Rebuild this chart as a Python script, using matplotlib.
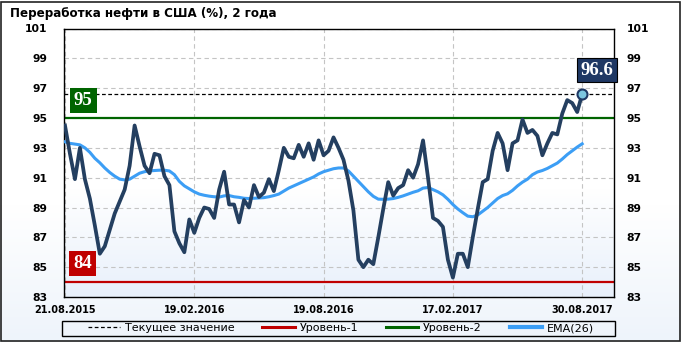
import numpy as np
import matplotlib
matplotlib.use('Agg')
from matplotlib import pyplot as plt
from matplotlib.lines import Line2D
from matplotlib.patches import Rectangle
from matplotlib.colors import LinearSegmentedColormap

title = 'Переработка нефти в США (%), 2 года'
date_labels = ['21.08.2015', '19.02.2016', '19.08.2016', '17.02.2017', '30.08.2017']
date_pos = [0, 26, 52, 78, 104]
y_ticks = [83, 85, 87, 89, 91, 93, 95, 97, 99, 101]

# weekly refinery utilization, %
refining = [94.5, 92.6, 90.9, 93.0, 90.9, 89.6, 87.8, 85.9, 86.4, 87.5,
            88.6, 89.4, 90.2, 91.8, 94.5, 93.1, 91.8, 91.3, 92.6, 92.5,
            91.1, 90.5, 87.4, 86.6, 86.0, 88.2, 87.3, 88.3, 89.0, 88.9,
            88.3, 90.2, 91.4, 89.2, 89.2, 88.0, 89.5, 89.0, 90.5, 89.7,
            90.0, 90.9, 90.1, 91.5, 93.0, 92.4, 92.3, 93.2, 92.4, 93.3,
            92.2, 93.5, 92.5, 92.8, 93.7, 93.0, 92.2, 90.8, 88.8, 85.5,
            85.0, 85.5, 85.2, 87.0, 88.9, 90.7, 89.8, 90.3, 90.5, 91.5,
            91.0, 91.9, 93.5, 91.0, 88.3, 88.1, 87.7, 85.5, 84.3, 85.9,
            85.9, 85.0, 87.0, 88.9, 90.7, 90.9, 92.8, 94.0, 93.3, 91.5,
            93.3, 93.5, 94.9, 94.0, 94.2, 93.8, 92.5, 93.3, 94.0, 93.9,
            95.3, 96.2, 96.0, 95.4, 96.6]

ema26 = [93.40, 93.30, 93.25, 93.20, 93.00, 92.70, 92.30, 92.00, 91.65, 91.35,
         91.10, 90.90, 90.85, 90.90, 91.10, 91.30, 91.40, 91.45, 91.48, 91.50,
         91.50, 91.45, 91.20, 90.75, 90.45, 90.25, 90.05, 89.90, 89.82, 89.76,
         89.72, 89.70, 89.78, 89.80, 89.72, 89.68, 89.62, 89.60, 89.62, 89.64,
         89.66, 89.72, 89.80, 89.90, 90.10, 90.30, 90.45, 90.60, 90.75, 90.90,
         91.05, 91.25, 91.40, 91.50, 91.60, 91.65, 91.65, 91.45, 91.10, 90.75,
         90.40, 90.05, 89.75, 89.56, 89.55, 89.56, 89.60, 89.68, 89.78, 89.90,
         90.02, 90.12, 90.30, 90.34, 90.20, 90.05, 89.85, 89.55, 89.20, 88.90,
         88.65, 88.42, 88.38, 88.50, 88.75, 89.00, 89.30, 89.60, 89.80, 89.92,
         90.15, 90.45, 90.70, 90.90, 91.20, 91.38, 91.48, 91.62, 91.80, 91.98,
         92.25, 92.55, 92.80, 93.05, 93.27]

level1 = 84
level2 = 95
current = refining[-1]
idx = np.arange(len(refining))

W, H = 681, 342
fig = plt.figure(figsize=(W / 100, H / 100), dpi=100)

# light gradient behind everything
bgax = fig.add_axes([0, 0, 1, 1], zorder=-1)
grad = np.linspace(0, 1, 256).reshape(-1, 1)
bgax.imshow(grad, aspect='auto', extent=(0, 1, 0, 1),
            cmap=LinearSegmentedColormap.from_list('f', [(0, '#ffffff'), (0.6, '#ffffff'), (1, '#eef4fb')]))
bgax.axis('off')

ax = fig.add_axes([64 / W, 1 - 297 / H, 550 / W, 268.5 / H])
ax.imshow(grad, aspect='auto', extent=(-0.2, 110.4, 83, 101), zorder=0,
          cmap=LinearSegmentedColormap.from_list('p', [(0, '#ffffff'), (0.6, '#ffffff'), (1, '#e8f0fb')]))
ax.set_xlim(-0.2, 110.4)
ax.set_ylim(83, 101)

ax.set_axisbelow(True)
ax.set_xticks(date_pos)
ax.set_xticklabels(date_labels)
ax.set_yticks(y_ticks)
ax.grid(True, color='#c4c4c4', linestyle=(0, (4, 3)), lw=0.8)
ax.tick_params(axis='both', length=0, labelsize=7.8)
ax.tick_params(axis='x', pad=6, labelsize=7)
ax.tick_params(axis='y', pad=12)
for lab in ax.get_xticklabels() + ax.get_yticklabels():
    lab.set_fontweight('bold')
for s in ax.spines.values():
    s.set_linewidth(1)

ax2 = ax.twinx()
ax2.set_ylim(83, 101)
ax2.set_yticks(y_ticks)
ax2.tick_params(axis='y', length=0, pad=9, labelsize=7.8)
for lab in ax2.get_yticklabels():
    lab.set_fontweight('bold')
for s in ax2.spines.values():
    s.set_visible(False)

ax.axhline(level2, color='#006400', lw=1.6, zorder=2)
ax.axhline(level1, color='#c00000', lw=1.6, zorder=2)
ax.axhline(current, color='black', lw=0.9, ls=(0, (3, 2)), zorder=2)
ax.plot(idx, ema26, color='#3c9ef5', lw=2.2, zorder=3)
ax.plot(idx, refining, color='#243f60', lw=2.7, zorder=4, solid_joinstyle='round')
ax.plot(idx[-1], current, 'o', ms=7.2, mfc='#7cc6e0', mec='#1f3864', mew=1.5, zorder=5)

lab_font = dict(color='white', fontsize=13.5, fontweight='bold', family='Liberation Serif')
ax.annotate(str(level2), xy=(0, level2), xycoords=('axes fraction', 'data'),
            xytext=(10, 9), textcoords='offset pixels', ha='left', va='bottom',
            bbox=dict(boxstyle='square,pad=0.2', fc='#006400', ec='none'), zorder=6, **lab_font)
ax.annotate(str(level1), xy=(0, level1), xycoords=('axes fraction', 'data'),
            xytext=(9, 10), textcoords='offset pixels', ha='left', va='bottom',
            bbox=dict(boxstyle='square,pad=0.2', fc='#c00000', ec='none'), zorder=6, **lab_font)
ax.annotate(f'{current:.1f}', xy=(idx[-1], current), xytext=(15, 24),
            textcoords='offset pixels', ha='center', va='center',
            bbox=dict(boxstyle='square,pad=0.2', fc='#1f3864', ec='black', lw=0.8), zorder=6, **lab_font)

fig.text(10 / W, 1 - 14 / H, title, fontsize=8.6, fontweight='bold', va='center', ha='left')

handles = [Line2D([], [], color='black', lw=0.9, ls=(0, (3, 2))),
           Line2D([], [], color='#c00000', lw=2.2),
           Line2D([], [], color='#006400', lw=2.2),
           Line2D([], [], color='#3c9ef5', lw=3)]
names = ['Текущее значение', 'Уровень-1', 'Уровень-2', 'EMA(26)']
fig.legend(handles, names, loc='center', bbox_to_anchor=(341 / W, 1 - 328.3 / H),
           ncol=4, frameon=False, fontsize=8, handlelength=2.9, handletextpad=0.45,
           columnspacing=2.5, borderpad=0, borderaxespad=0)
fig.patches.append(Rectangle((62 / W, 1 - 336 / H), 553 / W, 15.3 / H, transform=fig.transFigure,
                             fill=False, ec='black', lw=1))

fig.patches.append(Rectangle((1 / W, 1.5 / H), 678.5 / W, 339 / H, transform=fig.transFigure,
                             fill=False, ec='#222222', lw=1.2))

fig.savefig('out.png', dpi=100)
